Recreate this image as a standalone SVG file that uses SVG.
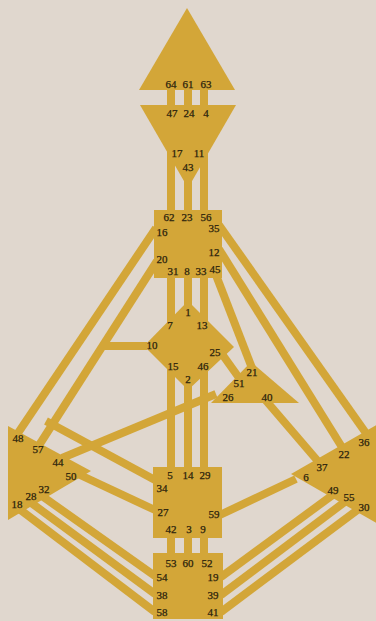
<svg xmlns="http://www.w3.org/2000/svg" width="376" height="621" viewBox="0 0 376 621">
<style>
.c{stroke:#d3a638;stroke-width:8;fill:none;stroke-linecap:butt}
.n{fill:#d3a638}
text{font-family:"Liberation Serif","DejaVu Serif",serif;font-size:11px;fill:#2a1f0c;text-anchor:middle;stroke:#2a1f0c;stroke-width:0.25}
</style>
<rect width="376" height="621" fill="#e0d7ce"/>
<g id="connectors">
<line class="c" x1="171" y1="86" x2="171" y2="108"/>
<line class="c" x1="188" y1="86" x2="188" y2="108"/>
<line class="c" x1="204" y1="86" x2="204" y2="108"/>
<line class="c" x1="171" y1="140" x2="171" y2="213"/>
<line class="c" x1="188" y1="160" x2="188" y2="213"/>
<line class="c" x1="204" y1="140" x2="204" y2="213"/>
<line class="c" x1="171" y1="275" x2="171" y2="325"/>
<line class="c" x1="188" y1="275" x2="188" y2="305"/>
<line class="c" x1="204" y1="275" x2="204" y2="325"/>
<line class="c" x1="171" y1="365" x2="171" y2="469"/>
<line class="c" x1="188" y1="385" x2="188" y2="469"/>
<line class="c" x1="204" y1="365" x2="204" y2="469"/>
<line class="c" x1="171" y1="536" x2="171" y2="555"/>
<line class="c" x1="188" y1="536" x2="188" y2="555"/>
<line class="c" x1="204" y1="536" x2="204" y2="555"/>
<line class="c" x1="156" y1="228" x2="16" y2="436"/>
<line class="c" x1="157" y1="261" x2="36" y2="450"/>
<line class="c" x1="103" y1="346" x2="147" y2="346"/>
<line class="c" x1="46" y1="421" x2="155" y2="480"/>
<line class="c" x1="78" y1="474" x2="155" y2="510"/>
<line class="c" x1="62" y1="458" x2="216" y2="394"/>
<line class="c" x1="42" y1="496" x2="155" y2="576"/>
<line class="c" x1="30" y1="502" x2="155" y2="594"/>
<line class="c" x1="18" y1="508" x2="155" y2="612"/>
<line class="c" x1="219" y1="225" x2="368" y2="436"/>
<line class="c" x1="219" y1="249" x2="345" y2="452"/>
<line class="c" x1="214" y1="270" x2="252" y2="368"/>
<line class="c" x1="222" y1="354" x2="242" y2="382"/>
<line class="c" x1="262" y1="396" x2="322" y2="466"/>
<line class="c" x1="220" y1="515" x2="296" y2="479"/>
<line class="c" x1="221" y1="577" x2="334" y2="494"/>
<line class="c" x1="221" y1="595" x2="346" y2="501"/>
<line class="c" x1="221" y1="612" x2="360" y2="508"/>
</g>
<g id="head">
<polygon class="n" points="187,8 235,90 139,90"/>
<text x="171" y="88">64</text><text x="188" y="88">61</text><text x="206" y="88">63</text>
</g>
<g id="ajna">
<polygon class="n" points="140,105 236,105 188,188"/>
<text x="172" y="117">47</text><text x="189" y="117">24</text><text x="206" y="117">4</text>
<text x="177" y="157">17</text><text x="199" y="157">11</text><text x="188" y="171">43</text>
</g>
<g id="throat">
<rect class="n" x="154" y="210" width="68" height="68"/>
<text x="169" y="221">62</text><text x="187" y="221">23</text><text x="206" y="221">56</text>
<text x="162" y="236">16</text><text x="214" y="232">35</text><text x="214" y="256">12</text>
<text x="162" y="263">20</text><text x="173" y="275">31</text><text x="187" y="275">8</text>
<text x="201" y="275">33</text><text x="215" y="273">45</text>
</g>
<g id="g">
<polygon class="n" points="188,301 234,347 188,390 144,346"/>
<text x="188" y="316">1</text><text x="170" y="329">7</text><text x="202" y="329">13</text>
<text x="152" y="349">10</text><text x="215" y="356">25</text><text x="173" y="370">15</text>
<text x="203" y="370">46</text><text x="188" y="383">2</text>
</g>
<g id="heart">
<polygon class="n" points="251,362 299,403 211,403"/>
<text x="252" y="376">21</text><text x="239" y="387">51</text><text x="228" y="401">26</text><text x="267" y="401">40</text>
</g>
<g id="spleen">
<polygon class="n" points="8,426 91,471 8,520"/>
<text x="18" y="442">48</text><text x="38" y="453">57</text><text x="58" y="466">44</text>
<text x="71" y="480">50</text><text x="44" y="493">32</text><text x="31" y="500">28</text><text x="17" y="508">18</text>
</g>
<g id="solar-plexus">
<polygon class="n" points="291,474 378,424 378,524"/>
<text x="364" y="446">36</text><text x="344" y="458">22</text><text x="322" y="471">37</text>
<text x="306" y="481">6</text><text x="333" y="494">49</text><text x="349" y="501">55</text><text x="364" y="511">30</text>
</g>
<g id="sacral">
<rect class="n" x="153" y="467" width="69" height="71"/>
<text x="170" y="479">5</text><text x="188" y="479">14</text><text x="205" y="479">29</text>
<text x="162" y="492">34</text><text x="163" y="516">27</text><text x="214" y="518">59</text>
<text x="171" y="533">42</text><text x="189" y="533">3</text><text x="203" y="533">9</text>
</g>
<g id="root">
<rect class="n" x="153" y="553" width="70" height="66"/>
<text x="171" y="567">53</text><text x="188" y="567">60</text><text x="207" y="567">52</text>
<text x="162" y="581">54</text><text x="213" y="581">19</text>
<text x="162" y="599">38</text><text x="213" y="599">39</text>
<text x="162" y="616">58</text><text x="213" y="616">41</text>
</g>
</svg>
